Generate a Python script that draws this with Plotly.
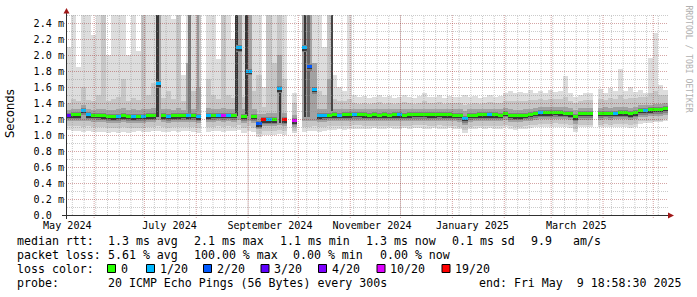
import pandas as pd
import plotly.graph_objects as go

nan = float("nan")

# ---------------- data (values in milliseconds) ----------------
bin_start = pd.date_range("2024-05-15", periods=120, freq="3D")
BIN_DAYS = 3

median_rtt = [
    1.24, 1.245, 1.245, 1.30, 1.245, 1.24, 1.235, 1.23, 1.225, 1.22,
    1.225, 1.23, 1.225, 1.22, 1.225, 1.225, 1.23, 1.23, 1.63, 1.23,
    1.225, 1.23, 1.23, 1.235, 1.23, 1.235, 1.22, nan, 1.23, 1.235,
    1.24, 1.235, 1.24, 1.235, 2.08, 1.225, 1.79, 1.225, 1.13, 1.18,
    1.18, 1.18, 1.57, 1.18, nan, 1.17, nan, 2.08, 1.85, 1.56,
    1.23, 1.235, 1.24, 1.245, 1.24, 1.245, 1.245, 1.25, 1.25, 1.245,
    1.24, 1.245, 1.24, 1.245, 1.24, 1.245, 1.245, 1.24, 1.245, 1.25,
    1.25, 1.25, 1.245, 1.245, 1.25, 1.245, 1.245, 1.24, 1.235, 1.20,
    1.235, 1.24, 1.245, 1.245, 1.245, 1.245, 1.24, 1.265, 1.235, 1.23,
    1.23, 1.24, 1.25, 1.26, 1.27, 1.27, 1.27, 1.275, 1.27, 1.265,
    1.255, 1.22, 1.26, 1.26, 1.26, nan, 1.26, 1.265, 1.26, 1.265,
    1.27, 1.27, 1.255, 1.27, 1.30, 1.30, 1.305, 1.31, 1.31, 1.325,
]

loss_count = [
    3, 0, 0, 1, 1, 0, 0, 0, 0, 0,
    1, 0, 0, 1, 0, 1, 0, 0, 1, 0,
    1, 0, 0, 0, 1, 0, 1, 0, 1, 0,
    1, 10, 1, 0, 1, 0, 1, 0, 2, 19,
    1, 0, 1, 19, 0, 10, 0, 1, 2, 1,
    1, 1, 0, 0, 1, 0, 0, 1, 0, 0,
    0, 0, 0, 0, 0, 0, 1, 0, 0, 0,
    0, 0, 0, 0, 0, 0, 0, 0, 0, 1,
    0, 0, 0, 0, 1, 0, 0, 0, 0, 0,
    0, 0, 0, 0, 1, 0, 0, 0, 0, 0,
    0, 0, 0, 0, 0, 0, 0, 0, 0, 1,
    0, 0, 0, 0, 0, 1, 0, 0, 0, 0,
]

ping_max = [
    2.1, 2.6, 1.85, 2.6, 2.6, 2.25, 2.6, 2.6, 2.0, 2.6,
    2.6, 2.6, 2.0, 2.6, 2.05, 2.6, 2.6, 2.6, 2.6, 2.6,
    2.6, 2.45, 2.6, 1.75, 2.6, 2.6, 2.6, nan, 2.6, 2.6,
    1.95, 2.6, 2.6, 2.2, 2.6, 2.6, 2.6, 2.6, 2.6, 1.6,
    2.6, 2.6, 2.6, 2.6, nan, 1.52, nan, 2.6, 2.6, 2.6,
    2.6, 2.1, 2.6, 1.75, 1.6, 1.55, 2.6, 1.5, 1.47, 1.49,
    1.46, 1.48, 1.5, 1.47, 1.49, 1.46, 1.48, 1.5, 1.47, 1.46,
    1.49, 1.52, 1.47, 1.48, 1.5, 1.46, 1.49, 1.47, 1.48, 1.50,
    1.47, 1.49, 1.46, 1.48, 1.5, 1.47, 1.49, 1.53, 1.55, 1.52,
    1.54, 1.52, 1.56, 1.53, 1.55, 1.52, 1.56, 1.54, 1.55, 1.74,
    1.52, 1.47, 1.5, 1.53, 1.52, nan, 1.58, 1.52, 1.59, 1.55,
    1.82, 1.55, 1.6, 1.54, 1.56, 1.53, 1.96, 2.28, 1.62, 1.56,
]

ping_p90 = [
    1.40, 1.45, 1.42, 1.6, 1.44, 1.42, 1.5, 2.6, 1.43, 1.45,
    1.48, 1.7, 1.42, 1.46, 1.44, 2.6, 1.5, 1.65, 2.6, 1.46,
    1.55, 1.45, 2.6, 1.42, 1.8, 1.55, 2.6, nan, 1.7, 1.5,
    1.45, 2.6, 1.5, 1.46, 2.6, 1.48, 2.6, 1.55, 1.75, 1.35,
    2.6, 1.9, 2.6, 1.7, nan, 1.40, nan, 2.6, 2.6, 1.8,
    1.55, 1.5, 2.6, 1.45, 1.42, 1.42, 1.45, 1.40, 1.39, 1.40,
    1.39, 1.40, 1.41, 1.39, 1.40, 1.39, 1.40, 1.41, 1.40, 1.39,
    1.40, 1.42, 1.40, 1.40, 1.41, 1.39, 1.40, 1.40, 1.40, 1.38,
    1.39, 1.40, 1.39, 1.40, 1.41, 1.40, 1.40, 1.43, 1.43, 1.42,
    1.43, 1.43, 1.44, 1.44, 1.45, 1.44, 1.45, 1.45, 1.45, 1.47,
    1.43, 1.40, 1.43, 1.44, 1.44, nan, 1.45, 1.44, 1.46, 1.45,
    1.50, 1.45, 1.46, 1.46, 1.48, 1.48, 1.52, 1.55, 1.50, 1.50,
]

ping_p75 = [
    1.31, 1.32, 1.32, 1.38, 1.32, 1.31, 1.32, 1.33, 1.31, 1.31,
    1.32, 1.34, 1.31, 1.32, 1.31, 1.33, 1.32, 1.34, 2.6, 1.32,
    1.33, 1.31, 1.34, 1.31, 1.9, 1.32, 1.6, nan, 1.34, 1.32,
    1.32, 1.34, 1.32, 1.32, 2.6, 1.32, 2.6, 1.33, 1.26, 1.26,
    1.28, 1.27, 2.0, 1.27, nan, 1.25, nan, 2.6, 2.6, 1.9,
    1.33, 1.32, 1.7, 1.33, 1.32, 1.32, 1.33, 1.32, 1.32, 1.32,
    1.32, 1.32, 1.32, 1.32, 1.32, 1.32, 1.32, 1.32, 1.32, 1.33,
    1.33, 1.33, 1.32, 1.32, 1.33, 1.32, 1.32, 1.32, 1.32, 1.30,
    1.32, 1.32, 1.32, 1.32, 1.32, 1.32, 1.32, 1.34, 1.32, 1.31,
    1.31, 1.32, 1.33, 1.34, 1.35, 1.35, 1.35, 1.35, 1.35, 1.35,
    1.34, 1.31, 1.34, 1.34, 1.34, nan, 1.34, 1.35, 1.34, 1.35,
    1.35, 1.35, 1.34, 1.35, 1.38, 1.38, 1.38, 1.39, 1.39, 1.40,
]

ping_p25 = [
    1.17, 1.17, 1.17, 1.17, 1.17, 1.16, 1.16, 1.16, 1.15, 1.15,
    1.15, 1.16, 1.15, 1.15, 1.15, 1.15, 1.16, 1.16, 1.19, 1.16,
    1.15, 1.16, 1.16, 1.16, 1.16, 1.16, 1.15, nan, 1.16, 1.16,
    1.17, 1.16, 1.17, 1.16, 1.19, 1.15, 1.18, 1.15, 1.07, 1.11,
    1.11, 1.11, 1.12, 1.11, nan, 1.10, nan, 1.17, 1.17, 1.17,
    1.16, 1.16, 1.17, 1.17, 1.17, 1.17, 1.17, 1.18, 1.18, 1.175,
    1.17, 1.175, 1.17, 1.175, 1.17, 1.175, 1.175, 1.17, 1.175, 1.18,
    1.18, 1.18, 1.175, 1.175, 1.18, 1.175, 1.175, 1.17, 1.165, 1.12,
    1.165, 1.17, 1.175, 1.175, 1.175, 1.175, 1.17, 1.19, 1.165, 1.16,
    1.16, 1.17, 1.18, 1.19, 1.20, 1.20, 1.20, 1.205, 1.20, 1.195,
    1.185, 1.14, 1.19, 1.19, 1.19, nan, 1.19, 1.195, 1.19, 1.195,
    1.20, 1.20, 1.185, 1.20, 1.23, 1.23, 1.235, 1.24, 1.24, 1.255,
]

ping_p10 = [
    1.11, 1.11, 1.11, 1.10, 1.11, 1.10, 1.10, 1.10, 1.09, 1.09,
    1.09, 1.10, 1.09, 1.09, 1.09, 1.09, 1.10, 1.10, 1.11, 1.10,
    1.09, 1.10, 1.10, 1.10, 1.10, 1.10, 1.09, nan, 1.10, 1.10,
    1.11, 1.10, 1.11, 1.10, 1.12, 1.09, 1.11, 1.09, 1.01, 1.05,
    1.05, 1.05, 1.06, 1.05, nan, 1.05, nan, 1.10, 1.10, 1.11,
    1.10, 1.10, 1.11, 1.11, 1.11, 1.11, 1.11, 1.12, 1.12, 1.115,
    1.11, 1.115, 1.11, 1.115, 1.11, 1.115, 1.115, 1.11, 1.115, 1.12,
    1.12, 1.12, 1.115, 1.115, 1.12, 1.115, 1.115, 1.11, 1.105, 1.06,
    1.105, 1.11, 1.115, 1.115, 1.115, 1.115, 1.11, 1.13, 1.11, 1.10,
    1.10, 1.11, 1.12, 1.13, 1.14, 1.14, 1.14, 1.145, 1.14, 1.135,
    1.125, 1.08, 1.13, 1.13, 1.13, nan, 1.13, 1.135, 1.13, 1.135,
    1.14, 1.14, 1.125, 1.14, 1.17, 1.17, 1.175, 1.18, 1.18, 1.195,
]

ping_min = [
    1.06, 1.05, 1.05, 1.04, 1.05, 1.04, 1.04, 1.04, 1.03, 1.04,
    1.03, 1.04, 1.03, 1.04, 1.05, 1.04, 1.04, 1.05, 1.05, 1.04,
    1.04, 1.05, 1.04, 1.05, 1.05, 1.04, 1.03, nan, 1.04, 1.05,
    1.05, 1.04, 1.05, 1.05, 1.06, 1.03, 1.05, 1.04, 0.98, 1.00,
    1.00, 1.00, 1.01, 1.00, nan, 1.02, nan, 1.04, 1.05, 1.05,
    1.04, 1.05, 1.06, 1.06, 1.07, 1.06, 1.07, 1.08, 1.08, 1.08,
    1.08, 1.085, 1.08, 1.08, 1.085, 1.08, 1.08, 1.085, 1.08, 1.085,
    1.085, 1.08, 1.08, 1.085, 1.08, 1.08, 1.085, 1.08, 1.07, 1.02,
    1.07, 1.08, 1.085, 1.08, 1.085, 1.08, 1.08, 1.10, 1.07, 1.065,
    1.07, 1.075, 1.09, 1.10, 1.10, 1.10, 1.105, 1.10, 1.10, 1.095,
    1.09, 1.04, 1.10, 1.10, 1.10, nan, 1.10, 1.10, 1.10, 1.10,
    1.105, 1.10, 1.09, 1.10, 1.14, 1.15, 1.15, 1.16, 1.16, 1.17,
]

# narrow dark smoke columns (many slow pings in one step)
spike_dates = ["2024-07-09", "2024-07-28", "2024-08-02", "2024-08-25", "2024-08-31",
               "2024-09-20", "2024-10-05", "2024-10-07", "2024-10-21"]
spike_low = [1.22, 1.28, 1.30, 1.24, 1.24, 1.15, 1.22, 1.22, 1.30]
spike_high = [2.6, 2.6, 2.6, 2.6, 2.6, 1.57, 2.6, 2.6, 2.6]
spike_slow_pings = [11, 7, 5, 11, 11, 11, 11, 8, 10]

loss_levels = [0, 1, 2, 3, 4, 10, 19]
loss_labels = ["0", "1/20", "2/20", "3/20", "4/20", "10/20", "19/20"]

y_tick_values = [0.0, 0.2, 0.4, 0.6, 0.8, 1.0, 1.2, 1.4, 1.6, 1.8, 2.0, 2.2, 2.4]
y_tick_text = ["0.0\u00a0\u00a0", "0.2 m", "0.4 m", "0.6 m", "0.8 m", "1.0 m", "1.2 m",
               "1.4 m", "1.6 m", "1.8 m", "2.0 m", "2.2 m", "2.4 m"]
x_label_dates = ["2024-05-16", "2024-07-16", "2024-09-14", "2024-11-14", "2025-01-13", "2025-03-16"]
x_label_text = ["May 2024", "July 2024", "September 2024", "November 2024", "January 2025", "March 2025"]

stats_rtt = [("median rtt:", 16.7), ("1.3 ms avg", 107.3), ("2.1 ms max", 193.3), ("1.1 ms min", 279.3),
             ("1.3 ms now", 365.0), ("0.1 ms sd", 451.7), ("9.9", 530.0), ("am/s", 572.7)]
stats_loss = [("packet loss:", 16.7), ("5.61 % avg", 107.3), ("100.00 % max", 193.3),
              ("0.00 % min", 292.7), ("0.00 % now", 379.3)]
probe_line = [("probe:", 16.7), ("20 ICMP Echo Pings (56 Bytes) every 300s", 107.3),
              ("end: Fri May\u00a0\u00a09 18:58:30 2025", 478.3)]

# ---------------- styles ----------------
X_START, X_END = "2024-05-15 19:00", "2025-05-09 19:00"
W, H = 697, 297
ML, MR, MT, MB = 67, 29, 15, 82
PW, PH = W - ML - MR, H - MT - MB
MONO = "DejaVu Sans Mono"
LOSS_COLORS = ["#26ff00", "#00b8ff", "#0059ff", "#5e00ff", "#7e00ff", "#dd00ff", "#ff0000"]
SMOKE = ["#dddddd", "#c6c6c6", "#a2a2a2"]
# median line drawing: (below, above) thickness in ms units, colour
CORE_STYLE = [(0.045, 0.04, "#808080"), (0.028, 0.016, "#383838")]
MEDIAN_THICK = (0.010, 0.028)
GRID_MINOR = "rgba(140,140,140,0.45)"
GRID_MAJOR = "rgba(150,30,30,0.40)"
AXIS = "#303030"
ARROW = "#a01818"
DOT = "1px,1px"
HALF_PX_Y = 0.5 / (PH / 2.5)


def pxx(xp):
    return (xp - ML) / PW


def pxy(yp):
    return (MT + PH - yp) / PH


centers = bin_start + pd.Timedelta(hours=BIN_DAYS * 12)
bar_w = BIN_DAYS * 86400000 * 1.03


def band(lo, hi):
    return [h - l for l, h in zip(lo, hi)]


def around(values, below, above):
    base = [v - below if v == v else nan for v in values]
    height = [below + above if v == v else nan for v in values]
    return base, height


fig = go.Figure()
for lo, hi, col in [(ping_min, ping_max, SMOKE[0]), (ping_p10, ping_p90, SMOKE[1]),
                    (ping_p25, ping_p75, SMOKE[2])]:
    fig.add_trace(go.Bar(x=centers, base=lo, y=band(lo, hi), width=bar_w,
                         marker=dict(color=col, line=dict(width=0)), hoverinfo="skip"))

spike_cols = []
for n in spike_slow_pings:
    g = max(52, 230 - 16 * n)
    spike_cols.append(f"rgb({g},{g},{g})")
fig.add_trace(go.Bar(x=pd.to_datetime(spike_dates), base=spike_low, y=band(spike_low, spike_high),
                     width=86400000 * 1.6, marker=dict(color=spike_cols, line=dict(width=0)),
                     hoverinfo="skip"))

for below, above, col in CORE_STYLE:
    b, h = around(median_rtt, below, above)
    fig.add_trace(go.Bar(x=centers, base=b, y=h, width=bar_w,
                         marker=dict(color=col, line=dict(width=0)), hoverinfo="skip"))

color_of = dict(zip(loss_levels, LOSS_COLORS))
b, h = around(median_rtt, *MEDIAN_THICK)
fig.add_trace(go.Bar(x=centers, base=b, y=h, width=bar_w,
                     marker=dict(color=[color_of[c] for c in loss_count], line=dict(width=0)),
                     hoverinfo="skip"))

shapes = []
# horizontal grid
for k in range(1, 26):
    v = k / 10
    major = k % 2 == 0 and k < 25
    shapes.append(dict(type="line", layer="above", xref="paper", yref="y",
                       x0=pxx(64 if major else 67), x1=1, y0=v - HALF_PX_Y, y1=v - HALF_PX_Y,
                       line=dict(color=GRID_MAJOR if major else GRID_MINOR, width=1, dash=DOT)))
# vertical grid: weekly (Sundays) and monthly
for d in pd.date_range("2024-05-19", "2025-05-09", freq="7D"):
    shapes.append(dict(type="line", layer="above", xref="x", yref="paper", x0=d, x1=d, y0=0, y1=1,
                       line=dict(color=GRID_MINOR, width=1, dash=DOT)))
for d in pd.date_range("2024-06-01", "2025-05-09", freq="MS"):
    shapes.append(dict(type="line", layer="above", xref="x", yref="paper", x0=d, x1=d,
                       y0=pxy(218), y1=1, line=dict(color=GRID_MAJOR, width=1, dash=DOT)))
# axes
shapes.append(dict(type="line", layer="above", xref="paper", yref="paper", x0=pxx(66.5), x1=pxx(66.5),
                   y0=pxy(219), y1=pxy(12), line=dict(color=AXIS, width=1)))
shapes.append(dict(type="line", layer="above", xref="paper", yref="paper", x0=pxx(62), x1=pxx(669),
                   y0=pxy(215.5), y1=pxy(215.5), line=dict(color=AXIS, width=1)))
shapes.append(dict(type="path", layer="above", xref="paper", yref="paper",
                   path=f"M {pxx(63.5)} {pxy(13.5)} L {pxx(66.5)} {pxy(8)} L {pxx(69.5)} {pxy(13.5)} Z",
                   fillcolor=ARROW, line=dict(width=0)))
shapes.append(dict(type="path", layer="above", xref="paper", yref="paper",
                   path=f"M {pxx(668)} {pxy(212.5)} L {pxx(674)} {pxy(215.5)} L {pxx(668)} {pxy(218.5)} Z",
                   fillcolor=ARROW, line=dict(width=0)))

annotations = []
LEG_FONT = dict(family=MONO, size=11.6, color="#000000")


def text_line(items, yc):
    for txt, xl in items:
        annotations.append(dict(text=txt, x=pxx(xl - 0.5), y=pxy(yc), xref="paper", yref="paper",
                                xanchor="left", yanchor="middle", showarrow=False, borderpad=0,
                                font=LEG_FONT))


text_line(stats_rtt, 241)
text_line(stats_loss, 255)
text_line([("loss color:", 16.7)], 268.5)
text_line(probe_line, 282.5)

legend_box_x = [107.5, 146.5, 203.5, 261, 318.5, 377, 442]
for lab, col, bx in zip(loss_labels, LOSS_COLORS, legend_box_x):
    shapes.append(dict(type="rect", xref="paper", yref="paper", x0=pxx(bx), x1=pxx(bx + 8),
                       y0=pxy(272.5), y1=pxy(264.5), fillcolor=col, line=dict(color="#000000", width=1)))
    annotations.append(dict(text=lab, x=pxx(bx + 12), y=pxy(268.5), xref="paper", yref="paper",
                            xanchor="left", yanchor="middle", showarrow=False, borderpad=0,
                            font=LEG_FONT))

annotations.append(dict(text="Seconds", x=pxx(10), y=pxy(114), xref="paper", yref="paper",
                        xanchor="center", yanchor="middle", textangle=-90, showarrow=False,
                        font=dict(family="DejaVu Sans", size=11.6, color="#000000")))
annotations.append(dict(text="RRDTOOL / TOBI OETIKER", x=pxx(688.5), y=pxy(59), xref="paper", yref="paper",
                        xanchor="center", yanchor="middle", textangle=90, showarrow=False,
                        font=dict(family=MONO, size=8.1, color="#b0b0b0")))

fig.update_layout(
    width=W, height=H, margin=dict(l=ML, r=MR, t=MT, b=MB, pad=0),
    paper_bgcolor="#ffffff", plot_bgcolor="#ffffff", showlegend=False,
    barmode="overlay", bargap=0,
    shapes=shapes, annotations=annotations,
    xaxis=dict(type="date", range=[X_START, X_END], showgrid=False, zeroline=False, showline=False,
               tickmode="array", tickvals=x_label_dates, ticktext=x_label_text, ticks="",
               tickfont=dict(family=MONO, size=10.1, color="#000000"), ticklabelstandoff=3),
    yaxis=dict(range=[0, 2.5], showgrid=False, zeroline=False, showline=False,
               tickmode="array", tickvals=y_tick_values, ticktext=y_tick_text, ticks="",
               tickfont=dict(family=MONO, size=10.1, color="#000000"), ticklabelstandoff=2),
)

fig.write_html("out.html")
